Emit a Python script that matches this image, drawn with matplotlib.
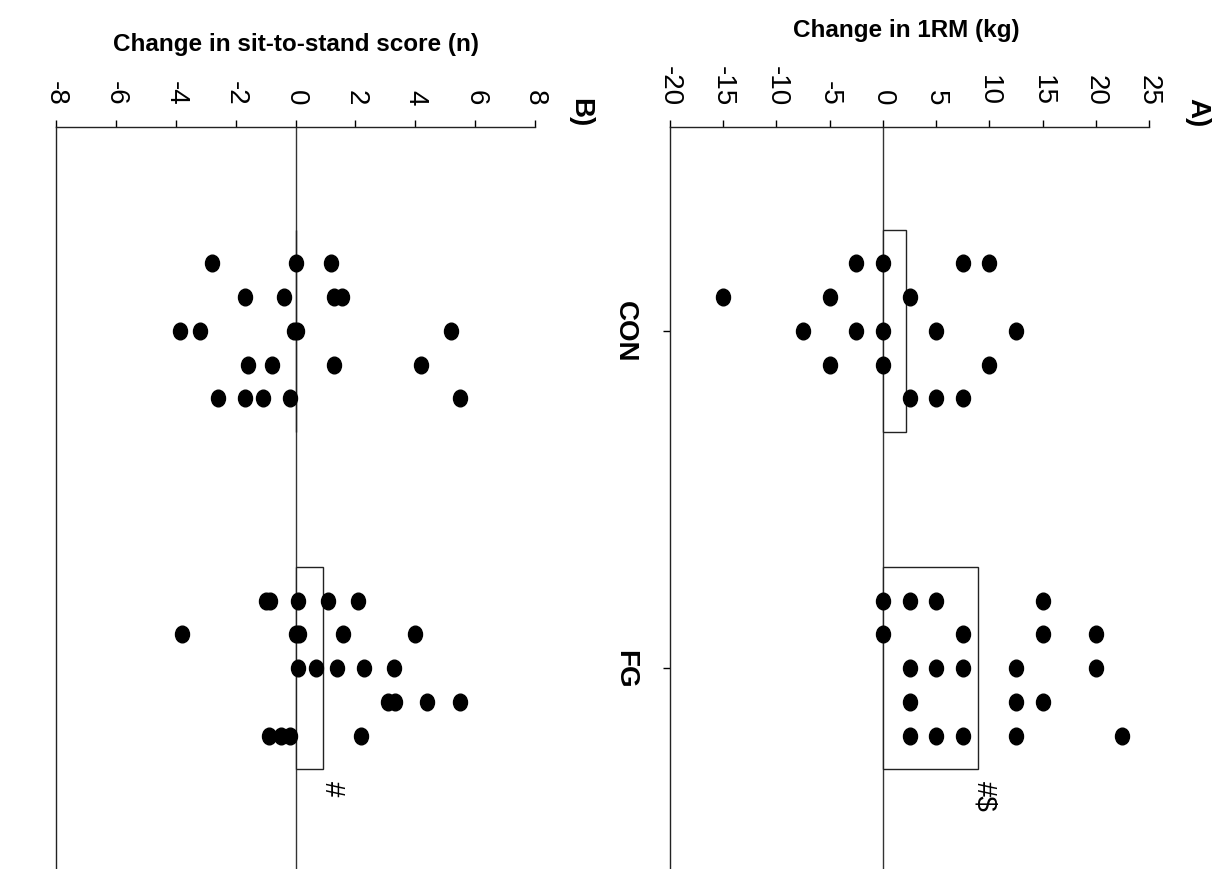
"""
Dot plot of individual changes per group (CON vs FG) with mean bars,
drawn sideways: value axis on top, groups running down the page.
"""

import matplotlib
matplotlib.use("Agg")
import matplotlib.pyplot as plt
from matplotlib.path import Path
from matplotlib.transforms import Affine2D

plt.rcParams['font.family'] = ['Liberation Sans', 'DejaVu Sans']

# Groups
groups = ['CON', 'FG']

# Panel A: change in 1RM (kg), dots listed row by row within each group
rm_con_rows = [[-2.5, 0, 7.5, 10],
               [-15, -5, 2.5],
               [-7.5, -2.5, 0, 5, 12.5],
               [-5, 0, 10],
               [2.5, 5, 7.5]]
rm_fg_rows = [[0, 2.5, 5, 15],
              [0, 7.5, 15, 20],
              [2.5, 5, 7.5, 12.5, 20],
              [2.5, 12.5, 15],
              [2.5, 5, 7.5, 12.5, 22.5]]
rm_means = [2.2, 8.9]
rm_ticks = [-20, -15, -10, -5, 0, 5, 10, 15, 20, 25]

# Panel B: change in sit-to-stand score (n)
sts_con_rows = [[-2.8, 0, 1.2],
                [-1.7, -0.4, 1.3, 1.55],
                [-3.85, -3.2, -0.05, 0.05, 5.2],
                [-1.6, -0.8, 1.3, 4.2],
                [-2.6, -1.7, -1.1, -0.2, 5.5]]
sts_fg_rows = [[-1.0, -0.86, 0.1, 1.1, 2.1],
               [-3.8, 0.0, 0.12, 1.6, 4.0],
               [0.1, 0.7, 1.4, 2.3, 3.3],
               [3.1, 3.32, 4.4, 5.5],
               [-0.9, -0.5, -0.2, 2.2]]
sts_means = [0.02, 0.92]
sts_ticks = [-8, -6, -4, -2, 0, 2, 4, 6, 8]

# slightly tall ellipse used as the dot marker
dot = Path.unit_circle().transformed(Affine2D().scale(0.84, 1.0))


def draw_panel(ax, rows_by_group, means, ticks, title, tag, tag_x, title_x, title_y, note, note_x, show_labels):
    # mean bars, drawn as open boxes from zero
    ax.barh(range(len(groups)), means, height=0.6, left=0, color='white',
            edgecolor='#222222', linewidth=1.0, zorder=2)
    ax.axvline(0, color='#333333', linewidth=1.0, zorder=1)

    # individual dots, rows stacked around each group position
    for gi, rows in enumerate(rows_by_group):
        for ri, row in enumerate(rows):
            y = gi + (ri - 2) * 0.1
            ax.plot(row, [y] * len(row), linestyle='none', marker=dot,
                    markersize=12, color='black', zorder=3)

    ax.set_xlim(ticks[0], ticks[-1])
    ax.set_ylim(1.595, -0.604)
    ax.set_xticks(ticks)
    ax.set_xticklabels([str(t) for t in ticks], rotation=-90, fontsize=20)
    ax.xaxis.tick_top()
    ax.tick_params(axis='x', length=5, width=1, pad=11, colors='black')
    ax.set_yticks(range(len(groups)))
    if show_labels:
        ax.set_yticklabels(groups, rotation=-90, fontsize=20, fontweight='bold', va='center')
        ax.tick_params(axis='y', length=5, width=1, pad=18)
    else:
        ax.set_yticklabels([])
        ax.tick_params(axis='y', length=0)

    for side in ['right', 'bottom']:
        ax.spines[side].set_visible(False)
    for side in ['top', 'left']:
        ax.spines[side].set_color('#222222')
        ax.spines[side].set_linewidth(1.0)

    # significance marks under the FG bar
    ax.text(note_x, 1.33, note, rotation=-90, fontsize=20, ha='center', va='top')

    fig = ax.figure
    fig.text(title_x, title_y, title, fontsize=17.5, fontweight='bold', ha='center', va='center')
    fig.text(tag_x, 1 - 113 / 870, tag, rotation=-90, fontsize=20, fontweight='bold',
             ha='center', va='center')


def main():
    fig = plt.figure(figsize=(12.23, 8.7), dpi=100)
    axb = fig.add_axes([56 / 1223, 0, 479 / 1223, 742 / 870])
    axa = fig.add_axes([670 / 1223, 0, 479 / 1223, 742 / 870])

    draw_panel(axa, [rm_con_rows, rm_fg_rows], rm_means, rm_ticks,
               'Change in 1RM (kg)', 'A)', 1197 / 1223, 906 / 1223, 1 - 30 / 870,
               '#$', 9.5, True)
    draw_panel(axb, [sts_con_rows, sts_fg_rows], sts_means, sts_ticks,
               'Change in sit-to-stand score (n)', 'B)', 580 / 1223, 296 / 1223, 1 - 45 / 870,
               '#', 1.22, False)

    fig.savefig('out.png', dpi=100)


if __name__ == "__main__":
    main()
